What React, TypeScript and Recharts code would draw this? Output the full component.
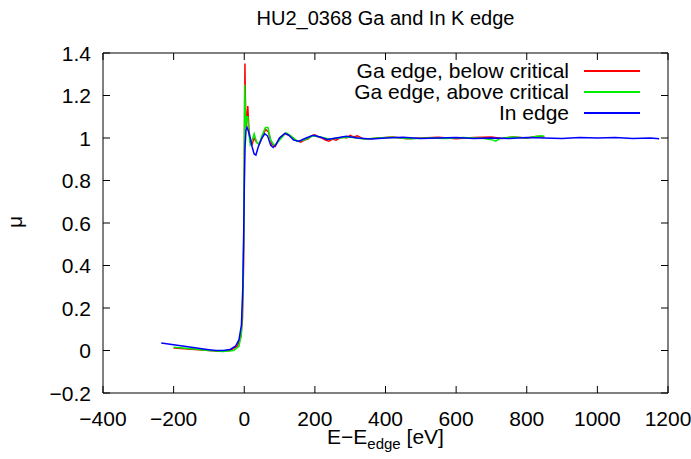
import React from "react";
import {
  LineChart,
  Line,
  XAxis,
  YAxis,
  Legend,
} from "recharts";

// energies relative to the edge (eV) and absorption values
const inE = [
  -235, -200, -150, -100, -80, -60, -40, -25, -15, -8, -4, -2, 0, 2, 5, 8, 12,
  17, 22, 28, 33, 40, 50, 58, 66, 75, 82, 90, 100, 115, 125, 140, 155, 175, 195,
  215, 235, 260, 290, 320, 360, 400, 450, 500, 550, 600, 650, 700, 750, 800,
  850, 900, 950, 1000, 1050, 1100, 1150, 1175,
];
const inMu = [
  0.035, 0.027, 0.015, 0.004, 0.0, 0.0, 0.005, 0.02, 0.05, 0.12, 0.3, 0.5,
  0.75, 0.95, 1.04, 1.05, 1.03, 1.0, 0.96, 0.925, 0.92, 0.96, 1.0, 1.02,
  1.01, 0.965, 0.955, 0.97, 1.0, 1.022, 1.015, 0.99, 0.985, 1.0, 1.013, 1.005,
  0.993, 1.0, 1.008, 1.0, 0.995, 1.0, 1.003, 0.998, 1.0, 1.002, 0.998, 1.0,
  0.998, 1.002, 1.0, 0.998, 1.002, 1.0, 1.002, 0.998, 1.0, 0.997,
];

const gaBelowE = [
  -200, -150, -100, -70, -40, -20, -10, -5, -2, 0, 1, 2, 3, 5, 8, 10, 13, 17,
  22, 28, 35, 42, 50, 60, 68, 78, 88, 100, 115, 130, 145, 160, 170, 180, 190,
  200, 210, 220, 230, 240, 250, 260, 270, 280, 290, 300, 310, 320, 335, 350,
  380, 420, 460, 500, 550, 600, 650, 700, 730, 760, 800, 830, 850,
];
const gaBelowMu = [
  0.012, 0.006, 0.0, -0.003, 0.0, 0.02, 0.06, 0.15, 0.4, 0.8, 1.1, 1.35, 1.2,
  1.05, 1.1, 1.15, 1.05, 0.98, 0.97, 1.0, 0.98, 0.97, 1.0, 1.04, 1.03, 0.97,
  0.96, 1.0, 1.02, 1.01, 0.99, 0.98, 0.99, 0.995, 1.01, 1.015, 1.005, 1.0,
  0.99, 0.985, 0.995, 0.99, 1.0, 1.005, 1.0, 1.012, 1.005, 1.01, 0.998, 0.995,
  1.0, 1.005, 0.997, 1.0, 1.003, 0.997, 1.002, 1.005, 0.998, 1.005, 1.0,
  1.008, 1.005,
];

const gaAboveE = [
  -200, -150, -100, -60, -30, -15, -8, -4, -1, 0, 1, 2, 4, 7, 10, 13, 17, 22,
  28, 35, 42, 50, 60, 67, 75, 85, 95, 105, 118, 132, 150, 170, 195, 215, 240,
  270, 300, 340, 380, 420, 470, 520, 570, 620, 680, 705, 712, 725, 760, 800,
  840, 850,
];
const gaAboveMu = [
  0.015, 0.008, 0.0, -0.005, 0.0, 0.02, 0.08, 0.25, 0.6, 0.9, 1.25, 1.2, 1.05,
  1.1, 1.1, 1.02, 0.97, 0.99, 1.02, 0.98, 0.97, 1.01, 1.05, 1.05, 0.99, 0.965,
  0.98, 1.0, 1.025, 1.01, 0.985, 0.99, 1.01, 1.005, 0.995, 1.0, 1.005, 0.995,
  1.0, 1.003, 0.997, 1.0, 0.998, 1.002, 0.998, 0.99, 0.985, 0.998, 1.005, 1.0,
  1.01, 1.008,
];

const xTicks = [-400, -200, 0, 200, 400, 600, 800, 1000, 1200];
const yTicks = [-0.2, 0, 0.2, 0.4, 0.6, 0.8, 1, 1.2, 1.4];

const series = [
  { name: "Ga edge, below critical", color: "#ff0000", e: gaBelowE, mu: gaBelowMu },
  { name: "Ga edge, above critical", color: "#00ee00", e: gaAboveE, mu: gaAboveMu },
  { name: "In edge", color: "#0000ff", e: inE, mu: inMu },
];

const FONT = "'Liberation Sans', Arial, sans-serif";
const TICK = 7;
const FS = 21;

const BottomTick = (props: any) => {
  const { x, y, payload } = props;
  return (
    <g>
      <line x1={x} y1={y} x2={x} y2={y - TICK} stroke="#000" />
      <text x={x} y={y + 25} textAnchor="middle" dominantBaseline="central" fontSize={FS} fontFamily={FONT} fill="#000">
        {String(payload.value).replace("-", "\u2212")}
      </text>
    </g>
  );
};

const TopTick = (props: any) => {
  const { x, y } = props;
  return <line x1={x} y1={y} x2={x} y2={y + TICK} stroke="#000" />;
};

const LeftTick = (props: any) => {
  const { x, y, payload } = props;
  return (
    <g>
      <line x1={x} y1={y} x2={x + TICK} y2={y} stroke="#000" />
      <text x={x - 12} y={y} textAnchor="end" dominantBaseline="central" fontSize={FS} fontFamily={FONT} fill="#000">
        {String(payload.value).replace("-", "\u2212")}
      </text>
    </g>
  );
};

const RightTick = (props: any) => {
  const { x, y } = props;
  return <line x1={x} y1={y} x2={x - TICK} y2={y} stroke="#000" />;
};

const LegendBox = () => (
  <div style={{ fontFamily: FONT, fontSize: FS, color: "#000" }}>
    {series.map((s) => (
      <div key={s.name} style={{ display: "flex", alignItems: "center", justifyContent: "flex-end", height: 21 }}>
        <span style={{ whiteSpace: "nowrap" }}>{s.name}</span>
        <span style={{ display: "inline-block", width: 56, height: 2, background: s.color, marginLeft: 15 }} />
      </div>
    ))}
  </div>
);

export default function App() {
  return (
    <div style={{ position: "absolute", left: 0, top: 0, width: 691, height: 459, background: "#fff" }}>
      <div style={{ position: "absolute", left: 0, width: 691, top: 7, textAlign: "center", paddingLeft: 80, boxSizing: "border-box", fontFamily: FONT, fontSize: 20, whiteSpace: "nowrap" }}>
        HU2_0368 Ga and In K edge
      </div>
      <div style={{ position: "absolute", left: 3, top: 210, width: 24, height: 24, fontFamily: FONT, fontSize: FS, transform: "rotate(-90deg)", textAlign: "center", lineHeight: "24px" }}>
        μ
      </div>
      <div style={{ position: "absolute", left: 0, width: 691, top: 425, textAlign: "center", paddingLeft: 80, boxSizing: "border-box", fontFamily: FONT, fontSize: FS, whiteSpace: "nowrap" }}>
        E−E<sub style={{ fontSize: 15 }}>edge</sub> [eV]
      </div>
      <LineChart width={691} height={459} margin={{ top: 52, right: 22, bottom: 0, left: 0 }}>
        <XAxis
          xAxisId="b"
          type="number"
          dataKey="e"
          domain={[-400, 1200]}
          ticks={xTicks}
          allowDataOverflow
          height={66}
          tickSize={0}
          tickMargin={0}
          tickLine={false}
          tick={<BottomTick />}
          stroke="#000"
          interval={0}
        />
        <XAxis
          xAxisId="t"
          orientation="top"
          type="number"
          dataKey="e"
          domain={[-400, 1200]}
          ticks={xTicks}
          allowDataOverflow
          height={1}
          tickSize={0}
          tickMargin={0}
          tickLine={false}
          tick={<TopTick />}
          stroke="#000"
          interval={0}
        />
        <YAxis
          yAxisId="l"
          type="number"
          domain={[-0.2, 1.4]}
          ticks={yTicks}
          allowDataOverflow
          width={103}
          tickSize={0}
          tickMargin={0}
          tickLine={false}
          tick={<LeftTick />}
          stroke="#000"
          interval={0}
        />
        <YAxis
          yAxisId="r"
          orientation="right"
          type="number"
          domain={[-0.2, 1.4]}
          ticks={yTicks}
          allowDataOverflow
          width={1}
          tickSize={0}
          tickMargin={0}
          tickLine={false}
          tick={<RightTick />}
          stroke="#000"
          interval={0}
        />
        {series.map((s) => (
          <Line
            key={s.name}
            xAxisId="b"
            yAxisId="l"
            name={s.name}
            data={s.e.map((e, i) => ({ e, mu: s.mu[i] }))}
            dataKey="mu"
            type="linear"
            stroke={s.color}
            strokeWidth={1.5}
            dot={false}
            activeDot={false}
            isAnimationActive={false}
          />
        ))}
        <Legend
          layout="vertical"
          align="center"
          verticalAlign="middle"
          content={<LegendBox />}
          wrapperStyle={{ position: "absolute", left: 300, top: 60, width: 340 }}
        />
      </LineChart>
    </div>
  );
}
